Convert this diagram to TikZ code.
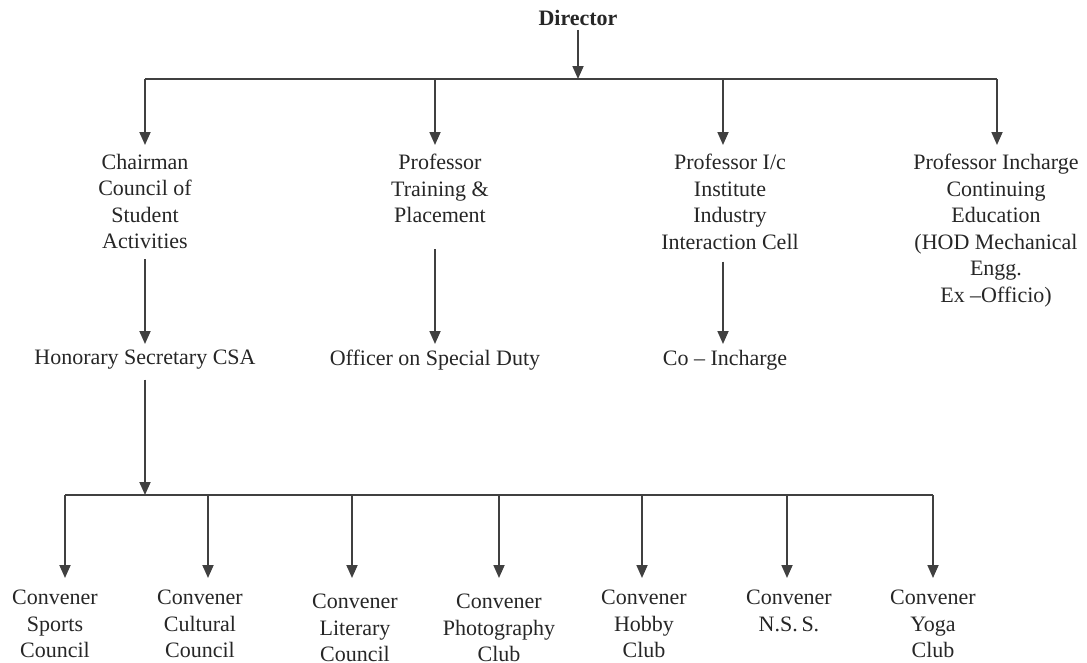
\documentclass[tikz,border=0pt]{standalone}
\usepackage{fontspec}
\setmainfont{Liberation Serif}
\usetikzlibrary{arrows.meta}
\tikzset{
  lbl/.style={align=center, inner sep=0pt, text=black!85, font=\fontsize{22}{26.5}\selectfont},
  ttl/.style={inner sep=0pt, text=black!85, font=\fontsize{22}{26.5}\selectfont\bfseries},
  conn/.style={draw=black!75, line width=1.8pt},
  arr/.style={conn, -{Triangle[length=13pt,width=11pt]}},
}
\begin{document}
\begin{tikzpicture}[x=1pt,y=-1pt]
\useasboundingbox (0,0) rectangle (1087,662);
% nodes
\node[ttl] (dir) at (578,18) {Director};
\node[lbl,anchor=north] (chair) at (145,154) {Chairman\\Council of\\Student\\Activities};
\node[lbl,anchor=north] (tp) at (440,154) {Professor\\Training \&\\Placement};
\node[lbl,anchor=north] (iic) at (730,154) {Professor I/c\\Institute\\Industry\\Interaction Cell};
\node[lbl,anchor=north] (ce) at (996,154) {Professor Incharge\\Continuing\\Education\\(HOD Mechanical\\Engg.\\Ex –Officio)};
\node[lbl,anchor=north] (hon) at (145,350) {Honorary Secretary CSA};
\node[lbl,anchor=north] (osd) at (435,350) {Officer on Special Duty};
\node[lbl,anchor=north] (coi) at (725,350) {Co – Incharge};
\node[lbl,anchor=north] (c1) at (55,590) {Convener\\Sports\\Council};
\node[lbl,anchor=north] (c2) at (200,590) {Convener\\Cultural\\Council};
\node[lbl,anchor=north] (c3) at (355,594) {Convener\\Literary\\Council};
\node[lbl,anchor=north] (c4) at (499,594) {Convener\\Photography\\Club};
\node[lbl,anchor=north] (c5) at (644,590) {Convener\\Hobby\\Club};
\node[lbl,anchor=north] (c6) at (789,590) {Convener\\N.S.\,S.};
\node[lbl,anchor=north] (c7) at (933,590) {Convener\\Yoga\\Club};
% bar coordinates
\coordinate (t1) at (145,79);
\coordinate (t2) at (435,79);
\coordinate (t3) at (723,79);
\coordinate (t4) at (997,79);
\coordinate (u1) at (65,495);
\coordinate (u2) at (208,495);
\coordinate (u3) at (352,495);
\coordinate (u4) at (499,495);
\coordinate (u5) at (642,495);
\coordinate (u6) at (787,495);
\coordinate (u7) at (933,495);
% connectors
\draw[arr, shorten <=4pt] (dir.south) -- (dir.south |- t1);
\draw[conn] (t1) -- (t4);
\draw[arr, shorten >=9pt] (t1) -- (t1 |- chair.north);
\draw[arr, shorten >=9pt] (t2) -- (t2 |- tp.north);
\draw[arr, shorten >=9pt] (t3) -- (t3 |- iic.north);
\draw[arr, shorten >=9pt] (t4) -- (t4 |- ce.north);
\draw[arr, shorten <=10pt, shorten >=6pt] (t1 |- chair.south) -- (t1 |- hon.north);
\draw[arr, shorten <=26pt, shorten >=6pt] (t2 |- tp.south) -- (t2 |- osd.north);
\draw[arr, shorten <=12pt, shorten >=6pt] (t3 |- iic.south) -- (t3 |- coi.north);
\draw[arr, shorten <=10pt] (hon.south) -- (hon.south |- u1);
\draw[conn] (u1) -- (u7);
\draw[arr, shorten >=12pt] (u1) -- (u1 |- c1.north);
\draw[arr, shorten >=12pt] (u2) -- (u2 |- c2.north);
\draw[arr, shorten >=16pt] (u3) -- (u3 |- c3.north);
\draw[arr, shorten >=16pt] (u4) -- (u4 |- c4.north);
\draw[arr, shorten >=12pt] (u5) -- (u5 |- c5.north);
\draw[arr, shorten >=12pt] (u6) -- (u6 |- c6.north);
\draw[arr, shorten >=12pt] (u7) -- (u7 |- c7.north);
\end{tikzpicture}
\end{document}
